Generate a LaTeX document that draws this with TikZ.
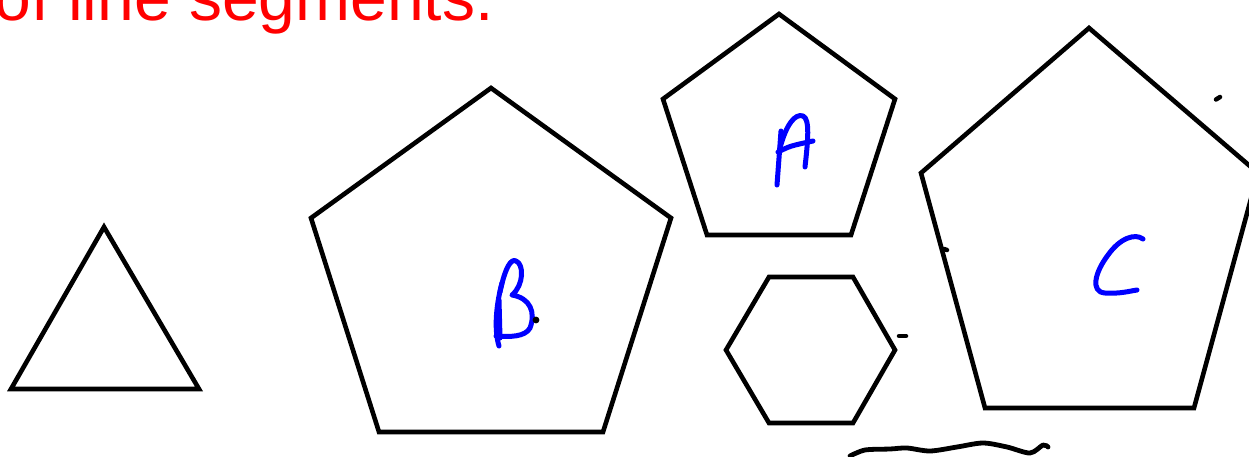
\documentclass[tikz,border=0pt]{standalone}
\usepackage{fontspec}
\setmainfont{Liberation Sans}
\begin{document}
\begin{tikzpicture}[x=1pt,y=-1pt,
  polyline/.style={draw=black,line width=4.6pt,line join=miter},
  hand/.style={draw=blue,line width=5pt,line cap=round,line join=round},
  ink/.style={draw=black,line width=4.5pt,line cap=round}]
\useasboundingbox (0,0) rectangle (1249,456);
\clip (0,0) rectangle (1249,456);
% title
\node[anchor=base west,inner sep=0pt,text=red,font=\fontsize{66}{70}\selectfont] (title) at (-5.5,20.5) {of line segments.};
% triangle
\draw[polyline] (104,227) -- (199,389) -- (11,389) -- cycle;
% pentagon B
\draw[polyline] (491,88) -- (671,218) -- (603,432) -- (379,432) -- (311,218) -- cycle;
% pentagon A
\draw[polyline] (779,14) -- (895,99) -- (851,235) -- (707,235) -- (663,99) -- cycle;
% hexagon
\draw[polyline] (769,277) -- (853,277) -- (895,350) -- (853,423) -- (769,423) -- (726,350) -- cycle;
% pentagon C
\draw[polyline] (1089,28) -- (1258,173) -- (1194,408) -- (985,408) -- (921,173) -- cycle;
% letter A
\draw[hand] (781,131) -- (777,185);
\draw[hand] (780,148) .. controls (786,125) and (795,113) .. (803,116) .. controls (810,119) and (808,140) .. (805,167);
\draw[hand] (778,152) .. controls (790,146) .. (813,141);
% letter B
\draw[hand] (502,283) .. controls (496,305) and (494,330) .. (499,346);
\draw[hand] (499,300) -- (500,338);
\draw[hand] (500,292) .. controls (505,268) and (511,258) .. (516,261) .. controls (524,264) and (524,285) .. (512,295) .. controls (530,298) and (536,312) .. (530,328) .. controls (525,337) and (510,337) .. (496,336);
% letter C
\draw[hand] (1143,239) .. controls (1135,233) and (1120,238) .. (1108,255) .. controls (1095,272) and (1090,292) .. (1105,293) .. controls (1120,294) and (1130,291) .. (1137,290);
% ink marks
\fill (536,320) circle (3.4);
\draw[ink] (944,249) -- (947,250);
\draw[ink] (899,336) -- (906,336);
\draw[ink] (1216,99.5) -- (1220,97);
\draw[ink,line width=4.8pt,line join=round] plot[smooth] coordinates {(850,456) (865,450) (890,449) (907,448) (930,451) (957,447) (983,443) (1007,447) (1030,453) (1043,445) (1048,447)};
\end{tikzpicture}
\end{document}
